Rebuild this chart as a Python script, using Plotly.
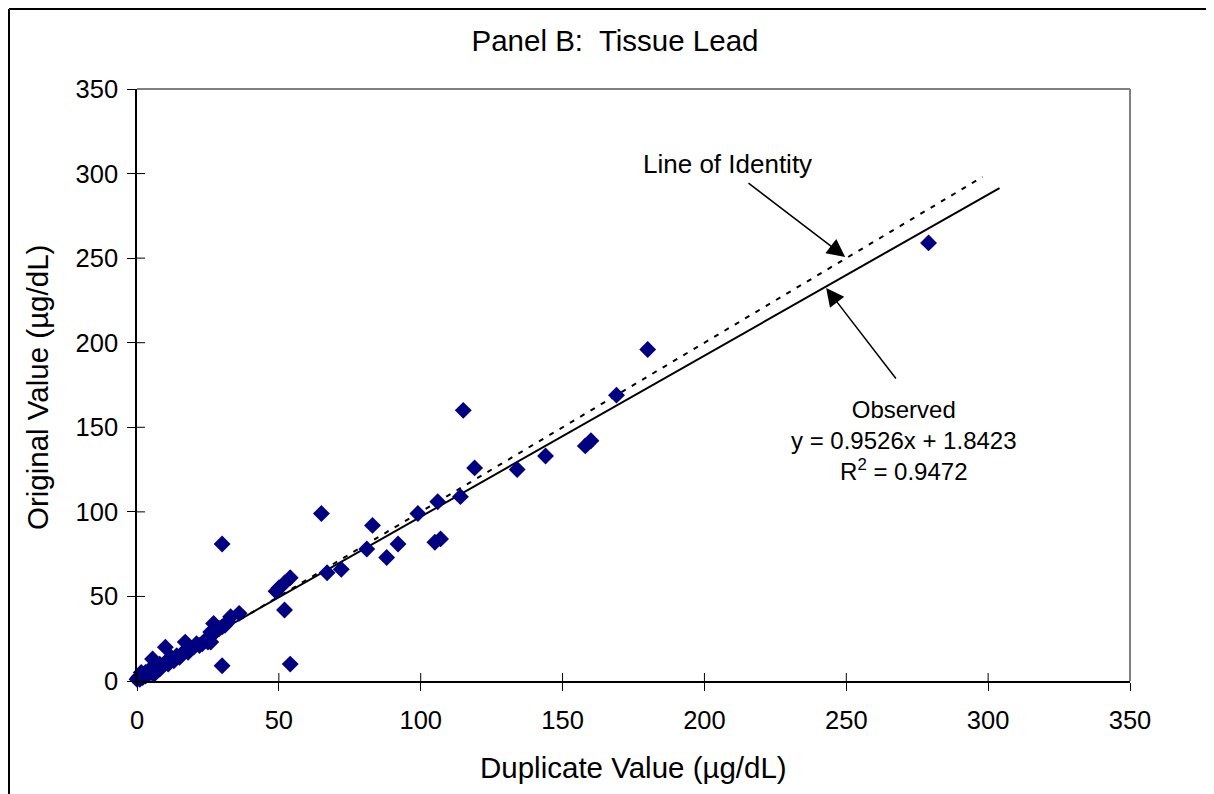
import plotly.graph_objects as go

# ---- data ----
duplicate = [279, 180, 169, 160, 158, 144, 134, 115, 119, 114, 106, 107, 105, 99,
             92, 88, 83, 81, 72, 67, 65, 54, 52, 50, 49, 52, 54, 30, 30,
             36, 33, 27, 26, 26, 21, 17, 10, 5.5, 1.5,
             0, 0.5, 1, 1, 2, 2, 3, 3, 4, 4, 5, 6, 6, 7, 8, 8, 9, 10, 11, 12, 12,
             13, 14, 15, 16, 17, 18, 19, 20, 22, 23, 24, 25, 27, 28, 29, 31, 32, 30]
original = [259, 196, 169, 142, 139, 133, 125, 160, 126, 109, 106, 84, 82, 99,
            81, 73, 92, 78, 66, 64, 99, 61, 58, 55, 53, 42, 10, 81, 9,
            40, 38, 34, 29, 23, 22, 23, 20, 13, 5,
            1, 2, 3, 1, 2, 4, 3, 5, 4, 6, 5, 6, 4, 8, 7, 10, 9, 11, 10, 12, 14,
            12, 15, 14, 16, 18, 17, 19, 20, 21, 22, 24, 23, 28, 30, 31, 33, 35, 32]

slope = 0.9526
intercept = 1.8423
r_squared = 0.9472
fit_x = [0, 304]
identity_x = [0, 298]
tick_vals = [0, 50, 100, 150, 200, 250, 300, 350]

fit_y = [slope * v + intercept for v in fit_x]

fig = go.Figure()
fig.add_trace(go.Scatter(x=identity_x, y=identity_x, mode="lines",
                         line=dict(color="black", width=2, dash="5px,7px"),
                         hoverinfo="skip", showlegend=False))
fig.add_trace(go.Scatter(x=fit_x, y=fit_y, mode="lines",
                         line=dict(color="black", width=2),
                         hoverinfo="skip", showlegend=False))
fig.add_trace(go.Scatter(x=duplicate, y=original, mode="markers", cliponaxis=False,
                         marker=dict(symbol="diamond", size=13, color="#000080",
                                     line=dict(width=0)),
                         showlegend=False))

font = "Liberation Sans, Arial, sans-serif"
axis_common = dict(range=[0, 350], tickvals=tick_vals, showgrid=False, zeroline=False,
                   showline=True, linecolor="black", linewidth=1.5,
                   ticks="outside", ticklen=8, tickcolor="black", tickwidth=1,
                   tickfont=dict(family=font, size=25.5, color="black"))
fig.update_xaxes(**axis_common, ticklabelstandoff=8)
fig.update_yaxes(**axis_common, ticklabelstandoff=4)

shapes = []
# inner half of crossing tick marks
for t in tick_vals:
    shapes.append(dict(type="line", xref="x", yref="y domain", x0=t, x1=t, y0=0, y1=8 / 592,
                       line=dict(color="black", width=1)))
    shapes.append(dict(type="line", xref="x domain", yref="y", x0=0, x1=8 / 993, y0=t, y1=t,
                       line=dict(color="black", width=1)))
# grey top/right frame
shapes.append(dict(type="line", xref="paper", yref="paper", x0=0, x1=1, y0=1, y1=1,
                   line=dict(color="#808080", width=2)))
shapes.append(dict(type="line", xref="paper", yref="paper", x0=1, x1=1, y0=0, y1=1,
                   line=dict(color="#808080", width=2)))
# outer chart border (left and top edges visible)
shapes.append(dict(type="line", xref="paper", yref="paper", x0=-128 / 993, x1=-128 / 993,
                   y0=-0.3, y1=672 / 592, line=dict(color="black", width=2)))
shapes.append(dict(type="line", xref="paper", yref="paper", x0=-128 / 993, x1=1.3,
                   y0=672 / 592, y1=672 / 592, line=dict(color="black", width=2)))

annotations = [
    dict(text="Duplicate Value (µg/dL)", xref="paper", yref="paper",
         x=(633 - 137) / 993, y=(681 - 767) / 592, xanchor="center", yanchor="middle",
         showarrow=False, font=dict(family=font, size=29.5, color="black")),
    dict(text="Original Value (µg/dL)", xref="paper", yref="paper",
         x=(37 - 137) / 993, y=(681 - 388) / 592, xanchor="center", yanchor="middle",
         showarrow=False, textangle=-90,
         font=dict(family=font, size=29.5, color="black")),
    dict(text="Line of Identity", x=208, y=305.7, xref="x", yref="y", showarrow=False,
         xanchor="center", yanchor="middle",
         font=dict(family=font, size=26, color="black")),
    dict(text="Observed<br>y = %.4fx + %.4f<br>R<sup>2</sup> = %.4f" % (slope, intercept, r_squared),
         x=270.4, y=142.3, xref="x", yref="y", showarrow=False,
         xanchor="center", yanchor="middle",
         font=dict(family=font, size=24, color="black")),
    dict(text="", x=249.6, y=250.7, ax=215, ay=295, xref="x", yref="y", axref="x", ayref="y",
         showarrow=True, arrowhead=2, arrowsize=2.4, arrowwidth=1.5, arrowcolor="black"),
    dict(text="", x=242.9, y=232.4, ax=267.9, ay=178, xref="x", yref="y", axref="x", ayref="y",
         showarrow=True, arrowhead=2, arrowsize=2.4, arrowwidth=1.5, arrowcolor="black"),
]

fig.update_layout(
    width=1206, height=786,
    margin=dict(l=129, r=84, t=81, b=113),
    paper_bgcolor="white", plot_bgcolor="white",
    title=dict(text="Panel B:&nbsp; Tissue Lead", x=607 / 1206, xref="container", xanchor="center",
               y=1 - 33 / 786, yref="container", yanchor="middle",
               font=dict(family=font, size=29.5, color="black")),
    shapes=shapes, annotations=annotations,
)

fig.write_html("out.html")
